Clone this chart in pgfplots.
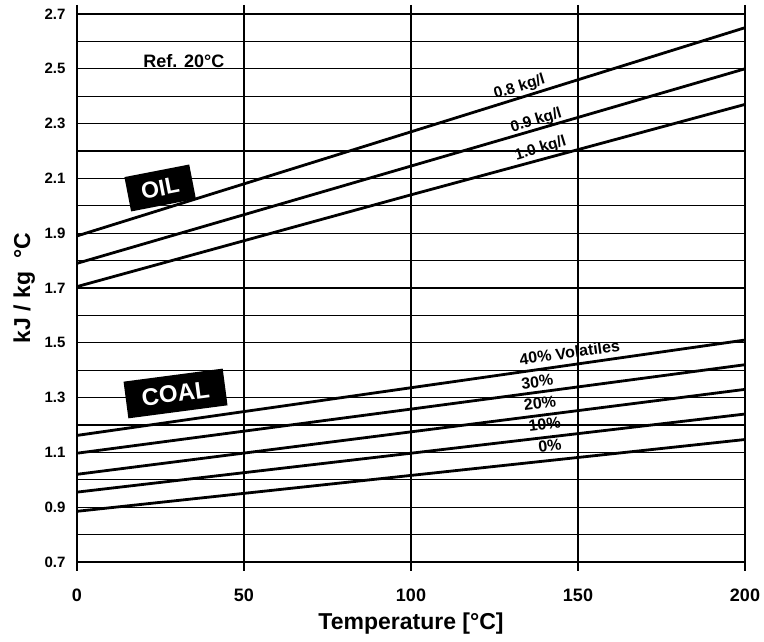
\documentclass[border=0pt]{standalone}
\usepackage{pgfplots}
\pgfplotsset{compat=1.18}
\usepackage{fontspec}
\setmainfont{Liberation Sans}
\begin{document}
\begin{tikzpicture}[x=1pt,y=1pt]
\useasboundingbox (-77,-80) rectangle (687,562);
\begin{axis}[
  at={(0,0)}, anchor=south west,
  width=668pt, height=548pt, scale only axis,
  xmin=0, xmax=200, ymin=0.7, ymax=2.7,
  xtick={0,50,100,150,200},
  ytick={0.7,0.9,1.1,1.3,1.5,1.7,1.9,2.1,2.3,2.5,2.7},
  minor ytick={0.8,1.0,1.2,1.4,1.6,1.8,2.0,2.2,2.4,2.6},
  grid=both,
  major grid style={black, line width=1.2pt},
  minor grid style={black, line width=1.2pt},
  axis line style={black, line width=1.6pt},
  tick align=outside,
  major tick length=9pt,
  xtick style={black, line width=1.2pt},
  ytick style={draw=none},
  minor tick length=0pt,
  /pgf/number format/assume math mode=true,
  yticklabel style={font=\fontsize{15}{17}\selectfont\bfseries, xshift=1pt,
    /pgf/number format/fixed, /pgf/number format/fixed zerofill, /pgf/number format/precision=1},
  xticklabel style={font=\fontsize{18}{20}\selectfont\bfseries, yshift=-14pt},
  xlabel={Temperature [°C]},
  ylabel={kJ / kg\ \ °C},
  xlabel style={font=\fontsize{23}{26}\selectfont\bfseries, at={(axis description cs:0.5,-0.113)}, anchor=center},
  ylabel style={font=\fontsize{23}{26}\selectfont\bfseries, at={(axis description cs:-0.079,0.5)}, anchor=center},
  clip=false,
]
% Oil
\addplot[black, line width=2.8pt] coordinates {(0,1.89) (100,2.27) (200,2.65)};
\addplot[black, line width=2.8pt] coordinates {(0,1.79) (100,2.145) (200,2.50)};
\addplot[black, line width=2.8pt] coordinates {(0,1.705) (100,2.04) (200,2.37)};
% Coal
\addplot[black, line width=2.8pt] coordinates {(0,1.162) (100,1.336) (200,1.51)};
\addplot[black, line width=2.8pt] coordinates {(0,1.097) (100,1.258) (200,1.42)};
\addplot[black, line width=2.8pt] coordinates {(0,1.02) (100,1.175) (200,1.33)};
\addplot[black, line width=2.8pt] coordinates {(0,0.955) (100,1.097) (200,1.24)};
\addplot[black, line width=2.8pt] coordinates {(0,0.885) (100,1.016) (200,1.147)};

\node[font=\fontsize{18}{20}\selectfont\bfseries, inner sep=1pt] at (axis cs:32,2.528) {Ref. 20°C};

\node[font=\fontsize{15.5}{17}\selectfont\bfseries, rotate=17, inner sep=0pt] at (axis cs:132.5,2.432) {0.8 kg/l};
\node[font=\fontsize{15.5}{17}\selectfont\bfseries, rotate=17, inner sep=0pt] at (axis cs:137.5,2.31) {0.9 kg/l};
\node[font=\fontsize{15.5}{17}\selectfont\bfseries, rotate=17, inner sep=0pt] at (axis cs:138.8,2.208) {1.0 kg/l};

\node[font=\fontsize{16}{18}\selectfont\bfseries, rotate=8, inner sep=0pt] at (axis cs:147.5,1.465) {40\% Volatiles};
\node[font=\fontsize{16}{18}\selectfont\bfseries, rotate=7, inner sep=0pt] at (axis cs:137.8,1.358) {30\%};
\node[font=\fontsize{16}{18}\selectfont\bfseries, rotate=7, inner sep=0pt] at (axis cs:138.6,1.281) {20\%};
\node[font=\fontsize{16}{18}\selectfont\bfseries, rotate=7, inner sep=0pt] at (axis cs:140,1.203) {10\%};
\node[font=\fontsize{16}{18}\selectfont\bfseries, rotate=7, inner sep=0pt] at (axis cs:141.6,1.124) {0\%};

\node[fill=black, text=white, font=\fontsize{23}{25}\selectfont\bfseries, rotate=11, minimum width=66pt, minimum height=35pt, inner sep=2pt] at (axis cs:24.9,2.065) {OIL};
\node[fill=black, text=white, font=\fontsize{24}{26}\selectfont\bfseries, rotate=7.5, minimum width=100pt, minimum height=37pt, inner sep=2pt] at (axis cs:29.5,1.315) {COAL};
\end{axis}
\end{tikzpicture}
\end{document}
